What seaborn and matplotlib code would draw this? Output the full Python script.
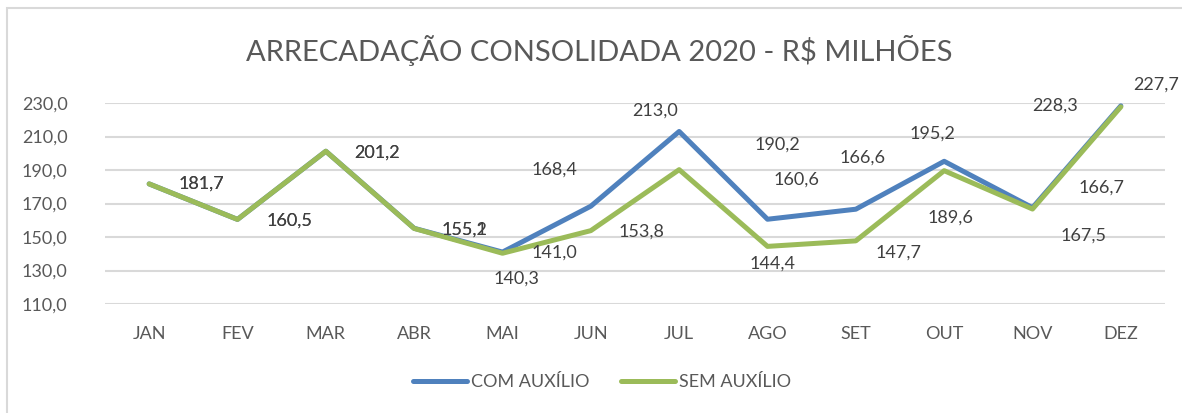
import matplotlib
matplotlib.use('Agg')
import matplotlib.pyplot as plt
import seaborn as sns
import pandas as pd
from matplotlib.patches import Rectangle

meses = ['JAN', 'FEV', 'MAR', 'ABR', 'MAI', 'JUN', 'JUL', 'AGO', 'SET', 'OUT', 'NOV', 'DEZ']
com_auxilio = [181.7, 160.5, 201.2, 155.2, 141.0, 168.4, 213.0, 160.6, 166.6, 195.2, 167.5, 228.3]
sem_auxilio = [181.7, 160.5, 201.2, 155.1, 140.3, 153.8, 190.2, 144.4, 147.7, 189.6, 166.7, 227.7]
series = ['COM AUXÍLIO', 'SEM AUXÍLIO']
yticks = [110, 130, 150, 170, 190, 210, 230]

# deslocamento dos rótulos de dados, em pixels (dx, dy)
desloc_com = [(52, 0), (52, -1), (51, -1), (50, -1), (52, -1), (-36, 37),
              (-24, 21), (29, 40), (7, 52), (-12, 28), (51, -28), (-66, 0)]
desloc_sem = [(52, 0), (52, -1), (51, -1), (50, -1), (14, -25), (51, -1),
              (98, 25), (5, -17), (43, -12), (6, -47), (69, 21), (35, 22)]

cores = {'COM AUXÍLIO': '#4F81BD', 'SEM AUXÍLIO': '#9BBB59'}
cinza = '#595959'

df = pd.DataFrame({
    'mes': list(range(len(meses))) * 2,
    'valor': com_auxilio + sem_auxilio,
    'serie': [series[0]] * len(meses) + [series[1]] * len(meses),
})

sns.set_style('white')
plt.rcParams['font.family'] = ['Lato', 'DejaVu Sans']

fig = plt.figure(figsize=(11.82, 4.13), dpi=100)
ax = fig.add_axes([105 / 1182, 1 - 304 / 413, 1060 / 1182, 201 / 413])

sns.lineplot(data=df, x='mes', y='valor', hue='serie', palette=cores,
             linewidth=3.6, ax=ax, legend=True)

ax.set_xlim(-0.5, len(meses) - 0.5)
ax.set_ylim(110, 230)
ax.set_xticks(range(len(meses)))
ax.set_xticklabels(meses)
ax.set_yticks(yticks)
ax.set_yticklabels([f"{v:.1f}".replace('.', ',') for v in yticks])
ax.tick_params(axis='both', length=0, labelsize=13, colors=cinza)
ax.tick_params(axis='x', pad=16)
ax.tick_params(axis='y', pad=27)
ax.set_xlabel('')
ax.set_ylabel('')
ax.grid(axis='y', color='#D9D9D9', linewidth=1.5)
ax.set_axisbelow(True)
for s in ax.spines.values():
    s.set_visible(False)

# rótulos de dados
for valores, desloc in [(com_auxilio, desloc_com), (sem_auxilio, desloc_sem)]:
    for i, v in enumerate(valores):
        ax.annotate(f"{v:.1f}".replace('.', ','), (i, v), xytext=desloc[i],
                    textcoords='offset pixels', ha='center', va='center',
                    fontsize=13, color='#404040')

leg = ax.legend(loc='center', bbox_to_anchor=(602 / 1182, 1 - 382 / 413),
                bbox_transform=fig.transFigure, ncol=2, frameon=False,
                handlelength=3.0, handletextpad=0.25, columnspacing=1.7,
                fontsize=13)
for t in leg.get_texts():
    t.set_color(cinza)

fig.text(599 / 1182, 1 - 50 / 413, 'ARRECADAÇÃO CONSOLIDADA 2020 - R$ MILHÕES',
         ha='center', va='center', fontsize=21, color=cinza)

fig.patches.append(Rectangle((7 / 1182, -0.05), 1.1, 1.05 - 8 / 413,
                             transform=fig.transFigure, fill=False,
                             edgecolor='#D9D9D9', linewidth=1.5))

fig.savefig('out.png', dpi=100)
